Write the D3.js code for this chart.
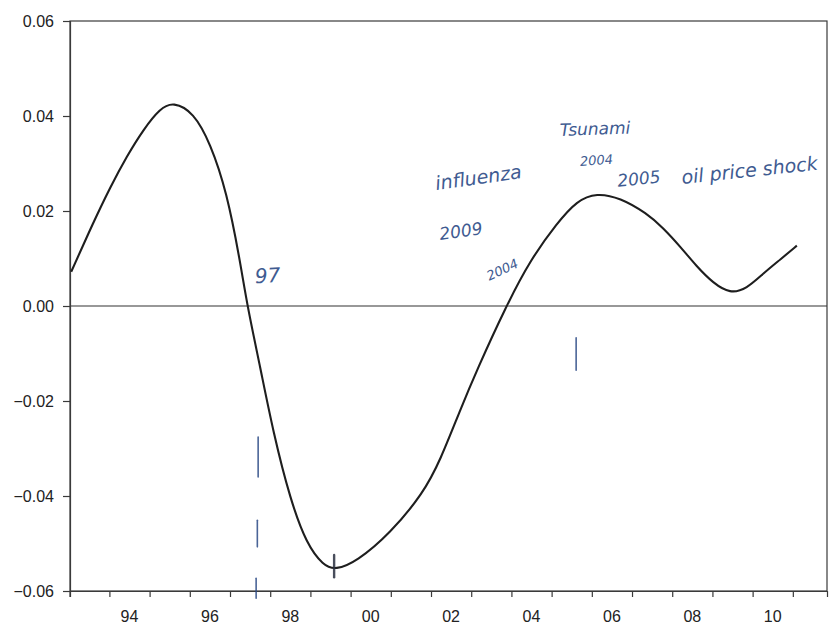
<!DOCTYPE html>
<html>
<head>
<meta charset="utf-8">
<script src="https://cdn.jsdelivr.net/npm/d3@7"></script>
<style>
  html, body { margin: 0; padding: 0; background: #ffffff; }
  svg { display: block; }
</style>
</head>
<body>
<svg id="chart" width="837" height="634"></svg>
<script>
// ---- data ----
const years = [1993.05, 1993.60, 1994.02, 1994.43, 1994.85, 1995.26, 1995.59, 1996.09, 1996.51, 1996.92,
               1997.25, 1997.43, 1997.75, 1998.08, 1998.50, 1998.91, 1999.32, 1999.62, 2000.15, 2000.98,
               2001.81, 2002.23, 2002.72, 2003.14, 2003.87, 2004.47, 2005.13, 2005.63, 2006.12, 2006.70,
               2007.37, 2007.78, 2008.20, 2008.61, 2009.02, 2009.44, 2009.85, 2010.27, 2010.69, 2011.10];
const values = [0.0072, 0.0176, 0.0250, 0.0315, 0.0372, 0.0416, 0.0430, 0.0408, 0.0343, 0.0240,
                0.0095, 0.0000, -0.0128, -0.0268, -0.0408, -0.0502, -0.0546, -0.0556, -0.0538, -0.0479,
                -0.0394, -0.0325, -0.0220, -0.0135, 0.0000, 0.0097, 0.0174, 0.0222, 0.0238, 0.0228,
                0.0195, 0.0164, 0.0125, 0.0083, 0.0048, 0.0026, 0.0036, 0.0069, 0.0098, 0.0127];
const yTicks = [0.06, 0.04, 0.02, 0.00, -0.02, -0.04, -0.06];
const yTickLabels = ["0.06", "0.04", "0.02", "0.00", "\u22120.02", "\u22120.04", "\u22120.06"];
const xTickYears = [1993, 1994, 1995, 1996, 1997, 1998, 1999, 2000, 2001, 2002, 2003, 2004, 2005, 2006, 2007, 2008, 2009, 2010, 2011];
const xLabelYears = [1994, 1996, 1998, 2000, 2002, 2004, 2006, 2008, 2010];
const xLabels = ["94", "96", "98", "00", "02", "04", "06", "08", "10"];
// handwritten notes on the scan
const noteTexts = ["97", "influenza", "2009", "Tsunami", "2004", "2005", "oil price shock", "2004"];
const noteYears = [1997.63, 2002.13, 2002.23, 2005.21, 2005.71, 2006.65, 2008.25, 2003.45];
const noteValues = [0.0048, 0.0244, 0.0139, 0.0358, 0.0295, 0.0251, 0.0257, 0.0053];
const markYears = [1997.70, 1997.68, 1997.65, 2005.61, 1999.59];
const markFrom = [-0.0276, -0.0451, -0.0573, -0.0067, -0.0524];
const markTo = [-0.0360, -0.0507, -0.0615, -0.0135, -0.0571];

// ---- layout ----
const svg = d3.select("#chart");
const L = 70, R = 827, T = 21, B = 591;

const x = d3.scaleLinear().domain([1993.02, 2011.85]).range([L, R]);
const y = d3.scaleLinear().domain([-0.06, 0.06]).range([B, T]);

const axisColor = "#3a3a3a";
const font = "'Liberation Sans', Arial, Helvetica, sans-serif";

// frame
svg.append("rect")
  .attr("x", L).attr("y", T).attr("width", R - L).attr("height", B - T)
  .attr("fill", "none").attr("stroke", axisColor).attr("stroke-width", 1.2);

// zero line
svg.append("line")
  .attr("x1", L).attr("x2", R).attr("y1", y(0)).attr("y2", y(0))
  .attr("stroke", "#333").attr("stroke-width", 1.1);

// y axis
const yAxis = d3.axisLeft(y)
  .tickValues(yTicks)
  .tickSize(7)
  .tickPadding(9)
  .tickFormat((d, i) => yTickLabels[i]);
const gy = svg.append("g").attr("transform", `translate(${L},0)`).call(yAxis);
gy.select(".domain").attr("stroke", axisColor).attr("stroke-width", 1.2);
gy.selectAll(".tick line").attr("stroke", axisColor).attr("stroke-width", 1.2);
gy.selectAll(".tick text")
  .attr("font-family", font).attr("font-size", 16).attr("fill", "#222");

// x axis ticks (year boundaries)
const xAxis = d3.axisBottom(x)
  .tickValues(xTickYears.filter(v => v >= x.domain()[0]))
  .tickSize(6)
  .tickFormat("");
const gx = svg.append("g").attr("transform", `translate(0,${B})`).call(xAxis);
gx.select(".domain").attr("stroke", axisColor).attr("stroke-width", 1.2);
gx.selectAll(".tick line").attr("stroke", axisColor).attr("stroke-width", 1.2);
// first tick sits on the axis corner
svg.append("line")
  .attr("x1", L).attr("x2", L).attr("y1", B).attr("y2", B + 6)
  .attr("stroke", axisColor).attr("stroke-width", 1.2);

// x labels centred in the year
svg.append("g").selectAll("text")
  .data(xLabelYears)
  .join("text")
  .attr("x", d => x(d + 0.5))
  .attr("y", 622)
  .attr("text-anchor", "middle")
  .attr("font-family", font).attr("font-size", 16).attr("fill", "#222")
  .text((d, i) => xLabels[i]);

// series line
const pts = years.map((yr, i) => [yr, values[i]]);
svg.append("path")
  .datum(pts)
  .attr("fill", "none")
  .attr("stroke", "#1e1e1e")
  .attr("stroke-width", 2.1)
  .attr("stroke-linejoin", "round")
  .attr("d", d3.line().x(d => x(d[0])).y(d => y(d[1])).curve(d3.curveBasis));

// handwritten pen marks
const ink = "#2b4a86";
svg.append("g").selectAll("line")
  .data(markYears)
  .join("line")
  .attr("x1", d => x(d)).attr("x2", d => x(d))
  .attr("y1", (d, i) => y(markFrom[i])).attr("y2", (d, i) => y(markTo[i]))
  .attr("stroke", (d, i) => i === 4 ? "#2a3040" : ink)
  .attr("stroke-width", (d, i) => i === 4 ? 2.4 : 1.6)
  .attr("stroke-linecap", "round")
  .attr("opacity", 0.85);

// handwritten notes
const noteSize = [20, 19, 17, 17, 13, 17, 19, 13];
const noteRot = [-3, -8, -8, -2, -4, -6, -6, -25];
svg.append("g").selectAll("text")
  .data(noteTexts)
  .join("text")
  .attr("transform", (d, i) => `translate(${x(noteYears[i])},${y(noteValues[i])}) rotate(${noteRot[i]})`)
  .attr("font-family", "'DejaVu Sans', 'Noto Sans', sans-serif")
  .attr("font-style", "italic")
  .attr("font-weight", 300)
  .attr("font-size", (d, i) => noteSize[i])
  .attr("fill", ink)
  .attr("opacity", 0.9)
  .text(d => d);
</script>
</body>
</html>
